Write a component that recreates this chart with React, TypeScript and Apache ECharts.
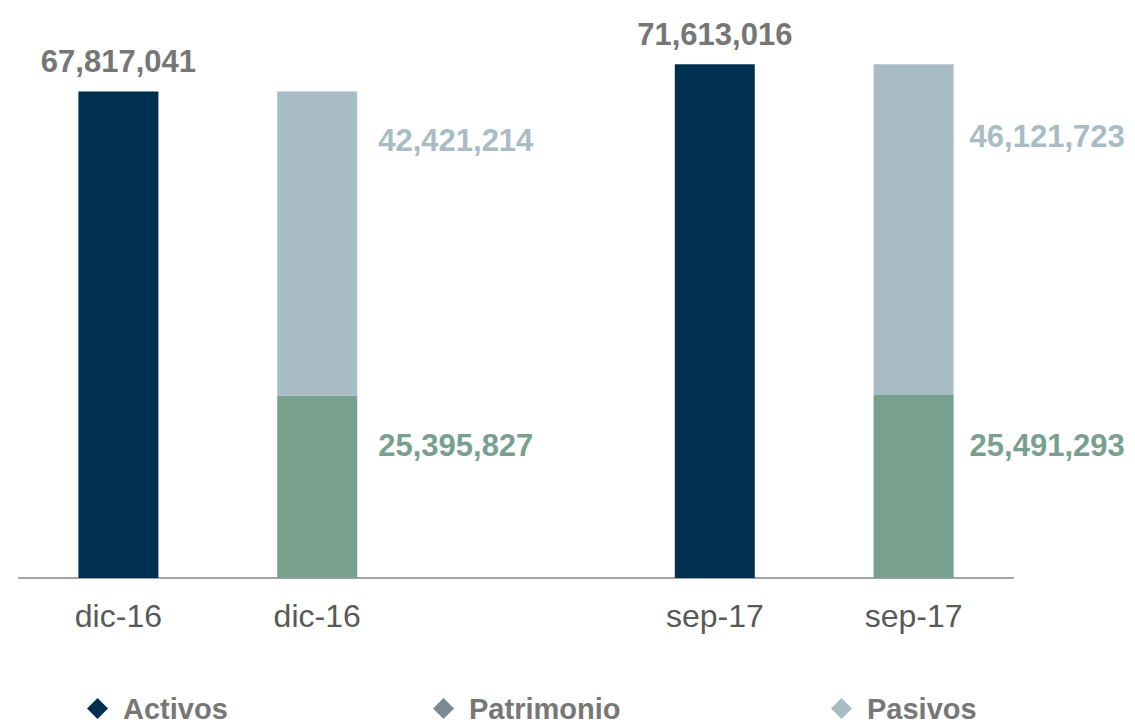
import React, { useEffect, useRef } from "react";
import * as echarts from "echarts";

const categories = ["dic-16", "dic-16", "", "sep-17", "sep-17"];
const activos = [67817041, null, null, 71613016, null];
const patrimonio = [null, 25395827, null, null, 25491293];
const pasivos = [null, 42421214, null, null, 46121723];

const fmt = (v: number) => v.toLocaleString("en-US");

export default function App() {
  const ref = useRef<HTMLDivElement>(null);
  useEffect(() => {
    if (!ref.current) return;
    const chart = echarts.init(ref.current, null, { renderer: "svg" });
    const font = "'Liberation Sans', Arial, sans-serif";
    const pasivosPos = [[101, 49], [101, 49], [0, 0], [96, 72], [96, 72]];
    const patrimonioPos = [[101, 50], [101, 50], [0, 0], [96, 50], [96, 50]];
    const legendBase = {
      bottom: 0,
      icon: "diamond",
      itemWidth: 21,
      itemHeight: 21,
      itemGap: 14,
      textStyle: { color: "#777777", fontSize: 29, fontWeight: "bold", fontFamily: font, padding: [0, 0, 0, 10] },
    };
    chart.setOption({
      animation: false,
      grid: { left: 19, right: 122, top: 4, bottom: 150, containLabel: false },
      legend: [
        { ...legendBase, left: 82, data: [{ name: "Activos", itemStyle: { color: "#003050" } }] },
        { ...legendBase, left: 428, data: [{ name: "Patrimonio", itemStyle: { color: "#7b8b93" } }] },
        { ...legendBase, left: 826, data: [{ name: "Pasivos", itemStyle: { color: "#a7bcc3" } }] },
      ],
      xAxis: {
        type: "category",
        data: categories,
        axisTick: { show: false },
        axisLine: { lineStyle: { color: "#a2a2aa", width: 2 } },
        axisLabel: { interval: 0, color: "#595959", fontSize: 32, fontFamily: font, margin: 22 },
      },
      yAxis: { type: "value", min: 0, max: 80000000, show: false, splitLine: { show: false } },
      series: [
        {
          name: "Activos",
          type: "bar",
          stack: "t",
          barWidth: 80,
          data: activos,
          itemStyle: { color: "#003050" },
          label: {
            show: true,
            position: "top",
            distance: 14,
            formatter: (p: any) => fmt(p.value),
            color: "#767676",
            fontSize: 31,
            fontWeight: "bold",
            fontFamily: font,
          },
        },
        {
          name: "Patrimonio",
          type: "bar",
          stack: "t",
          barWidth: 80,
          data: patrimonio.map((v, i) =>
            v == null ? null : { value: v, label: { position: patrimonioPos[i] } }
          ),
          itemStyle: { color: "#78a08f" },
          label: {
            show: true,
            align: "left",
            verticalAlign: "middle",
            formatter: (p: any) => fmt(p.value),
            color: "#78a08f",
            fontSize: 31,
            fontWeight: "bold",
            fontFamily: font,
          },
        },
        {
          name: "Pasivos",
          type: "bar",
          stack: "t",
          barWidth: 80,
          data: pasivos.map((v, i) =>
            v == null ? null : { value: v, label: { position: pasivosPos[i] } }
          ),
          itemStyle: { color: "#a7bcc3" },
          label: {
            show: true,
            align: "left",
            verticalAlign: "middle",
            formatter: (p: any) => fmt(p.value),
            color: "#a7bcc3",
            fontSize: 31,
            fontWeight: "bold",
            fontFamily: font,
          },
        },
      ],
    });
    return () => chart.dispose();
  }, []);
  return <div ref={ref} style={{ width: 1135, height: 728, position: "absolute", left: 0, top: 0 }} />;
}
